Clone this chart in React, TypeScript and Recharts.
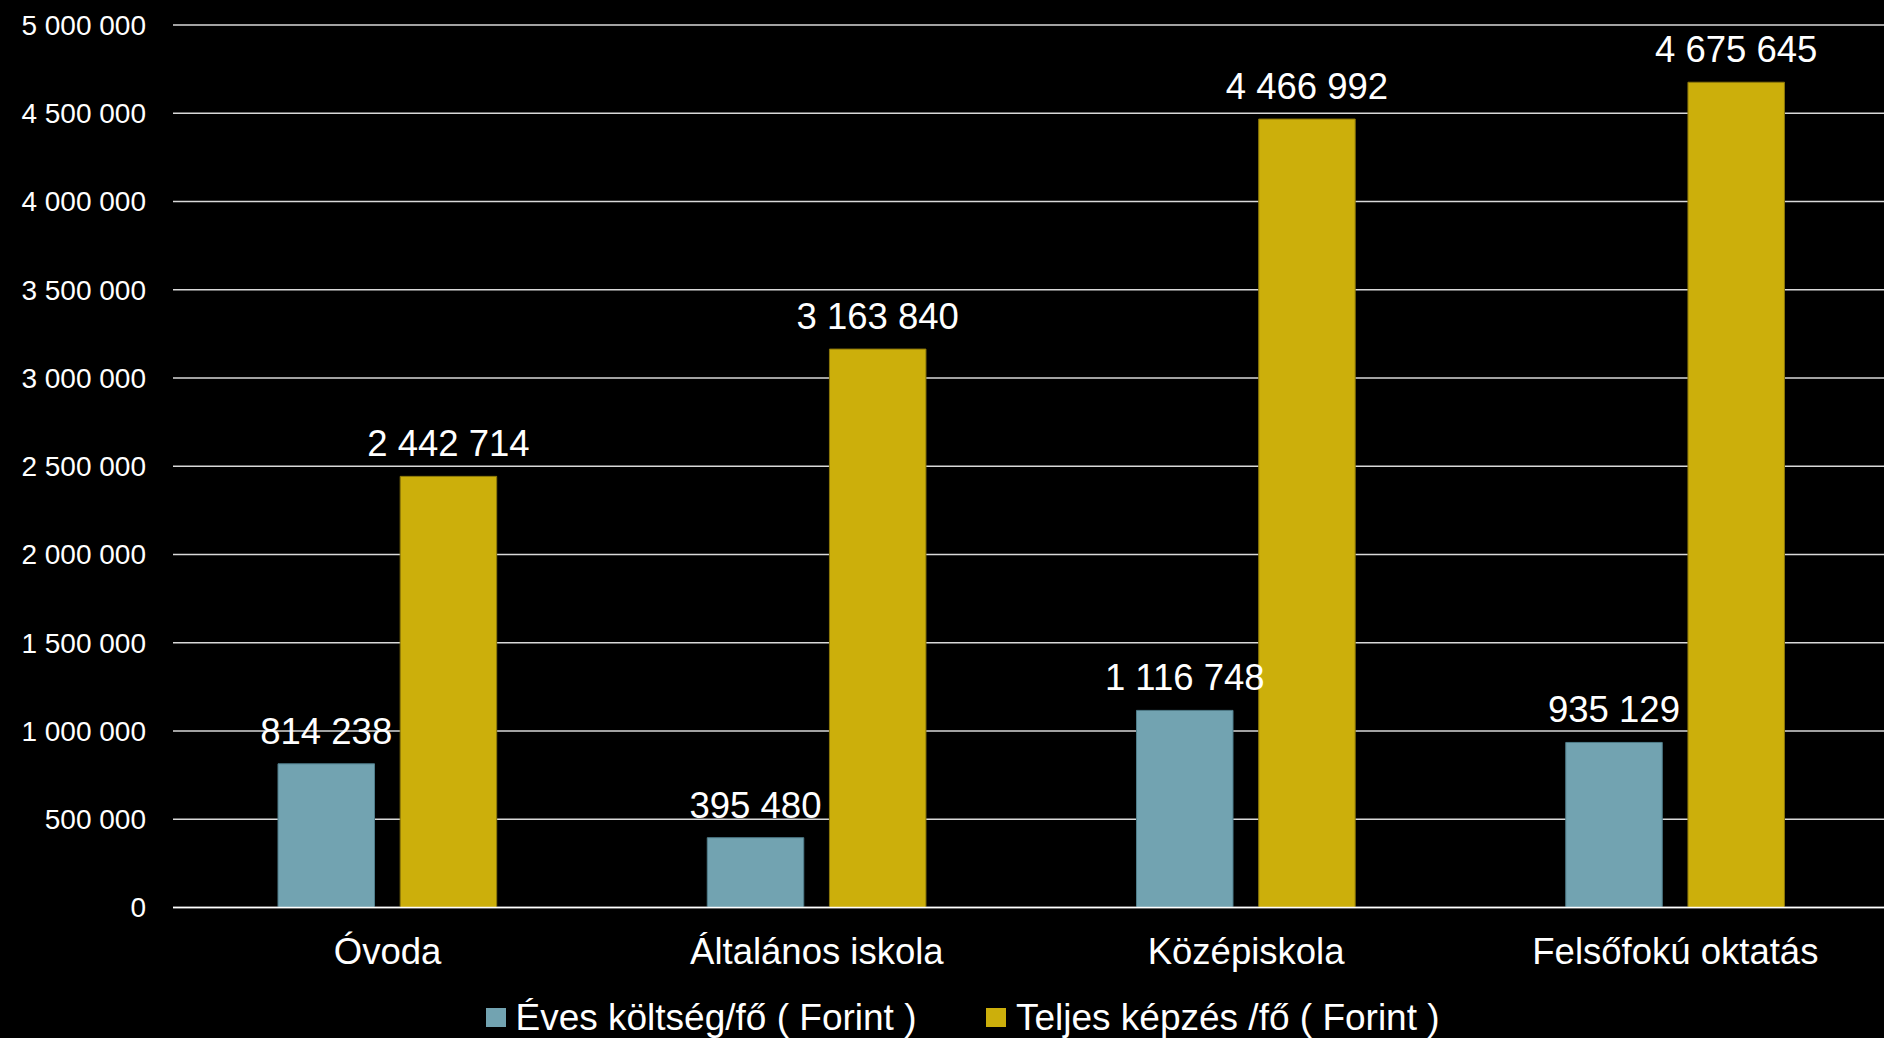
import React from 'react';
import {
  Bar,
  BarChart,
  CartesianGrid,
  LabelList,
  Legend,
  XAxis,
  YAxis,
} from 'recharts';

// chart data
const categories = ['Óvoda', 'Általános iskola', 'Középiskola', 'Felsőfokú oktatás'];
const evesKoltseg = [814238, 395480, 1116748, 935129];
const teljesKepzes = [2442714, 3163840, 4466992, 4675645];
const yTicks = [0, 500000, 1000000, 1500000, 2000000, 2500000, 3000000, 3500000, 4000000, 4500000, 5000000];

const series = [
  { key: 'eves', name: 'Éves költség/fő ( Forint )', color: '#72A3B1', stroke: '#4f7d8a' },
  { key: 'teljes', name: 'Teljes képzés /fő ( Forint )', color: '#CCAF0B', stroke: '#8c780a' },
];

const data = categories.map((name, i) => ({
  name,
  eves: evesKoltseg[i],
  teljes: teljesKepzes[i],
}));

const FONT = '"Liberation Sans", Arial, sans-serif';

// 2442714 -> "2 442 714"
const fmt = (v: number) => String(v).replace(/\B(?=(\d{3})+(?!\d))/g, ' ');

const LegendContent = () => (
  <div
    style={{
      display: 'flex',
      alignItems: 'center',
      height: 37,
      fontFamily: FONT,
      fontSize: 37,
      lineHeight: 1,
      color: '#fff',
      whiteSpace: 'nowrap',
    }}
  >
    {series.map((s, i) => (
      <div
        key={s.key}
        style={{ display: 'flex', alignItems: 'center', marginRight: i === 0 ? 70 : 0 }}
      >
        <span
          style={{ width: 19.5, height: 19.5, background: s.color, marginRight: 10, display: 'inline-block' }}
        />
        <span>{s.name}</span>
      </div>
    ))}
  </div>
);

export default function App() {
  return (
    <div style={{ width: 1884, height: 1038, overflow: 'hidden', background: '#000', position: 'relative' }}>
      <style>{`body{margin:0;background:#000;overflow:hidden}`}</style>
      <BarChart
        width={1890}
        height={1038}
        data={data}
        margin={{ top: 25, right: 0, bottom: 0, left: 0 }}
        barSize={96.5}
        barGap={25.7}
        style={{ fontFamily: FONT }}
      >
        <CartesianGrid vertical={false} stroke="#d9d9d9" strokeWidth={1.5} />
        <XAxis
          dataKey="name"
          height={130.5}
          tickSize={0}
          tickMargin={31}
          tickLine={false}
          axisLine={{ stroke: '#ffffff', strokeWidth: 1.5 }}
          tick={{ fill: '#ffffff', fontSize: 36.5, fontFamily: FONT }}
        />
        <YAxis
          width={173}
          domain={[0, 5000000]}
          ticks={yTicks}
          tickFormatter={fmt}
          tickSize={0}
          tickMargin={27}
          tickLine={false}
          axisLine={false}
          tick={{ fill: '#ffffff', fontSize: 28, fontFamily: FONT }}
        />
        <Legend
          layout="horizontal"
          verticalAlign="middle"
          align="center"
          content={<LegendContent />}
          wrapperStyle={{ top: 999, left: 486, width: 'auto', height: 37 }}
        />
        {series.map((s) => (
          <Bar
            key={s.key}
            dataKey={s.key}
            name={s.name}
            fill={s.color}
            stroke={s.stroke}
            strokeWidth={1}
            isAnimationActive={false}
          >
            <LabelList
              dataKey={s.key}
              position="top"
              offset={20}
              formatter={(v: any) => fmt(Number(v))}
              fill="#ffffff"
              fontSize={36.5}
              fontFamily={FONT}
            />
          </Bar>
        ))}
      </BarChart>
    </div>
  );
}
